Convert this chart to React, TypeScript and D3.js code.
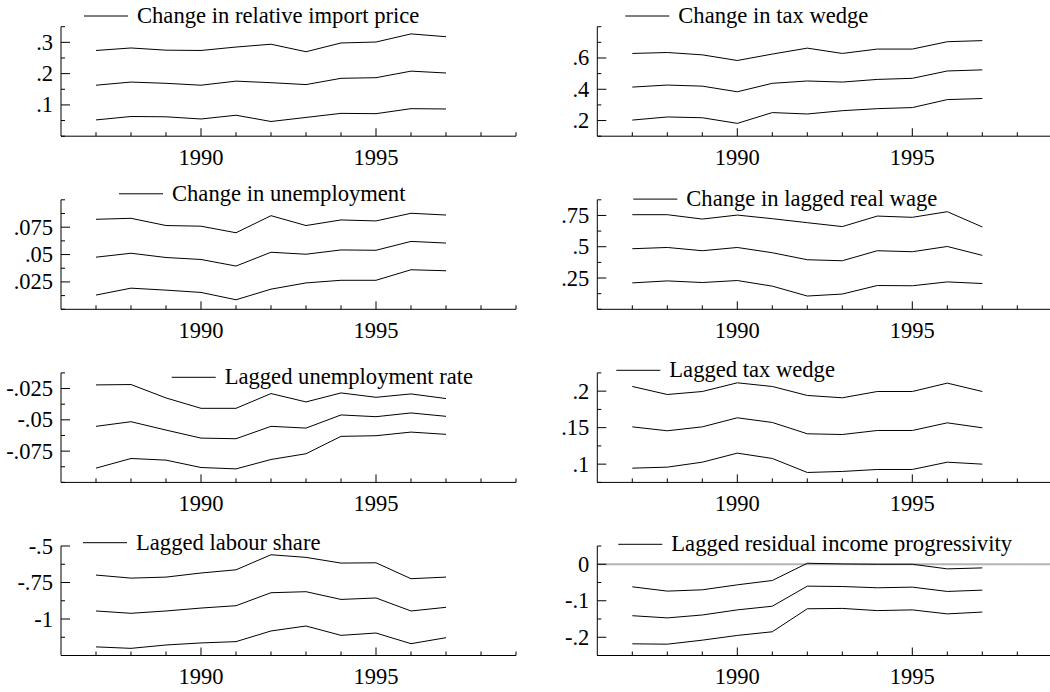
import React from 'react';
import * as d3 from 'd3';

const years = [1987, 1988, 1989, 1990, 1991, 1992, 1993, 1994, 1995, 1996, 1997];
const xTickYears = [1987, 1988, 1989, 1990, 1991, 1992, 1993, 1994, 1995, 1996, 1997, 1998, 1999];
const xLabelYears = [1990, 1995];

const importUpper = [0.274, 0.282, 0.275, 0.274, 0.285, 0.294, 0.27, 0.298, 0.301, 0.327, 0.318];
const importMid = [0.163, 0.173, 0.169, 0.163, 0.176, 0.171, 0.165, 0.185, 0.187, 0.208, 0.202];
const importLower = [0.052, 0.063, 0.062, 0.055, 0.067, 0.047, 0.06, 0.073, 0.072, 0.088, 0.087];

const taxUpper = [0.629, 0.635, 0.62, 0.584, 0.625, 0.663, 0.629, 0.657, 0.657, 0.704, 0.711];
const taxMid = [0.414, 0.427, 0.42, 0.384, 0.438, 0.453, 0.446, 0.463, 0.47, 0.517, 0.524];
const taxLower = [0.203, 0.223, 0.218, 0.182, 0.251, 0.242, 0.263, 0.276, 0.283, 0.334, 0.341];

const unempUpper = [0.0822, 0.0831, 0.0765, 0.0759, 0.0699, 0.0855, 0.0765, 0.0816, 0.0807, 0.0877, 0.0861];
const unempMid = [0.0476, 0.0512, 0.0473, 0.0455, 0.0395, 0.0521, 0.0503, 0.0542, 0.0539, 0.062, 0.0605];
const unempLower = [0.013, 0.0193, 0.0175, 0.0154, 0.0087, 0.0184, 0.0241, 0.0265, 0.0265, 0.0361, 0.0352];

const wageUpper = [0.756, 0.756, 0.721, 0.753, 0.724, 0.692, 0.661, 0.745, 0.735, 0.78, 0.658];
const wageMid = [0.484, 0.494, 0.468, 0.494, 0.452, 0.396, 0.388, 0.468, 0.46, 0.502, 0.431];
const wageLower = [0.211, 0.227, 0.214, 0.23, 0.185, 0.106, 0.122, 0.19, 0.188, 0.219, 0.206];

const lagUnempUpper = [-0.0221, -0.0218, -0.0325, -0.0408, -0.0408, -0.029, -0.0357, -0.0285, -0.032, -0.0293, -0.033];
const lagUnempMid = [-0.0552, -0.0515, -0.0582, -0.0646, -0.0651, -0.0552, -0.0566, -0.0461, -0.0475, -0.0445, -0.0472];
const lagUnempLower = [-0.0886, -0.0809, -0.0822, -0.0881, -0.0892, -0.0817, -0.0771, -0.0632, -0.0627, -0.0598, -0.0616];

const lagTaxUpper = [0.2064, 0.1954, 0.1995, 0.2114, 0.2064, 0.1941, 0.1909, 0.1995, 0.1995, 0.211, 0.1995];
const lagTaxMid = [0.1511, 0.1457, 0.1511, 0.1635, 0.1571, 0.1416, 0.1406, 0.1461, 0.1461, 0.1566, 0.1498];
const lagTaxLower = [0.0945, 0.0959, 0.1027, 0.1151, 0.1078, 0.0886, 0.09, 0.0927, 0.0927, 0.1027, 0.1];

const labourUpper = [-0.699, -0.72, -0.713, -0.685, -0.663, -0.56, -0.578, -0.617, -0.615, -0.724, -0.713];
const labourMid = [-0.945, -0.961, -0.945, -0.925, -0.909, -0.82, -0.813, -0.866, -0.856, -0.945, -0.92];
const labourLower = [-1.191, -1.201, -1.178, -1.164, -1.155, -1.082, -1.048, -1.112, -1.096, -1.169, -1.128];

const progUpper = [-0.0618, -0.0736, -0.07, -0.0564, -0.0445, 0.0027, 0.0009, 0, 0, -0.0127, -0.01];
const progMid = [-0.141, -0.147, -0.139, -0.125, -0.115, -0.06, -0.061, -0.0645, -0.0627, -0.0745, -0.0709];
const progLower = [-0.218, -0.219, -0.208, -0.195, -0.185, -0.122, -0.121, -0.127, -0.125, -0.136, -0.131];

type Panel = {
  title: string;
  series: number[][];
  domain: [number, number];
  step: number;
  labels: number[];
  legend: [number, number];
  zeroLine?: boolean;
};

const panels: Panel[] = [
  { title: 'Change in relative import price', series: [importUpper, importMid, importLower], domain: [0, 0.35], step: 0.05, labels: [0.1, 0.2, 0.3], legend: [23, -10.7] },
  { title: 'Change in tax wedge', series: [taxUpper, taxMid, taxLower], domain: [0.1, 0.8], step: 0.1, labels: [0.2, 0.4, 0.6], legend: [28, -10.7] },
  { title: 'Change in unemployment', series: [unempUpper, unempMid, unempLower], domain: [0, 0.1], step: 0.0125, labels: [0.025, 0.05, 0.075], legend: [58, -6] },
  { title: 'Change in lagged real wage', series: [wageUpper, wageMid, wageLower], domain: [0, 0.875], step: 0.125, labels: [0.25, 0.5, 0.75], legend: [36, -0.7] },
  { title: 'Lagged unemployment rate', series: [lagUnempUpper, lagUnempMid, lagUnempLower], domain: [-0.1, -0.0125], step: 0.0125, labels: [-0.075, -0.05, -0.025], legend: [110.7, 4.4] },
  { title: 'Lagged tax wedge', series: [lagTaxUpper, lagTaxMid, lagTaxLower], domain: [0.075, 0.225], step: 0.025, labels: [0.1, 0.15, 0.2], legend: [19, -2.6] },
  { title: 'Lagged labour share', series: [labourUpper, labourMid, labourLower], domain: [-1.25, -0.5], step: 0.125, labels: [-1, -0.75, -0.5], legend: [22, -3.3] },
  { title: 'Lagged residual income progressivity', series: [progUpper, progMid, progLower], domain: [-0.25, 0.05], step: 0.05, labels: [-0.2, -0.1, 0], legend: [21, -1.7], zeroLine: true },
];

const W = 1050;
const H = 692;
const FONT = '"Liberation Serif", "Times New Roman", serif';

const fmt = (v: number) => String(+v.toFixed(4)).replace('0.', '.');

function PanelChart({ p, i }: { p: Panel; i: number }) {
  const col = i % 2;
  const row = Math.floor(i / 2);
  const left = 61 + col * 536.3;
  const top = 26.7 + row * 173.1;
  const bottom = top + 109.5;

  const x = d3.scaleLinear().domain([1986, 1999]).range([left, left + 455]);
  const y = d3.scaleLinear().domain(p.domain).range([bottom, top]);
  const n = Math.round((p.domain[1] - p.domain[0]) / p.step);
  const yTicks = d3.range(n + 1).map(k => p.domain[0] + k * p.step);
  const isLabel = (v: number) => p.labels.some(l => Math.abs(l - v) < 1e-9);

  const line = d3
    .line<number>()
    .x((_, k) => x(years[k]))
    .y(d => y(d));

  const [lx, ly] = p.legend;
  const legY = top + ly;

  return (
    <g>
      {p.zeroLine && (
        <line x1={left} x2={W} y1={y(0)} y2={y(0)} stroke="#b4b4b4" strokeWidth={2} />
      )}
      <line x1={left} x2={left} y1={top} y2={bottom} stroke="#000" />
      <line x1={left} x2={Math.min(x(1999), W)} y1={bottom} y2={bottom} stroke="#000" />
      {yTicks.map(v => (
        <line key={`yt${v}`} x1={left} x2={left + (isLabel(v) ? 9 : 4)} y1={y(v)} y2={y(v)} stroke="#000" />
      ))}
      {p.labels.map(v => (
        <text key={`yl${v}`} x={left - 8} y={y(v) + 7.5} textAnchor="end" fontFamily={FONT} fontSize={22.5}>
          {fmt(v)}
        </text>
      ))}
      {xTickYears.map(yr => (
        <line key={`xt${yr}`} x1={x(yr)} x2={x(yr)} y1={bottom} y2={bottom - (xLabelYears.includes(yr) ? 8 : 4)} stroke="#000" />
      ))}
      {xLabelYears.map(yr => (
        <text key={`xl${yr}`} x={x(yr)} y={bottom + 28.5} textAnchor="middle" fontFamily={FONT} fontSize={22.5}>
          {yr}
        </text>
      ))}
      {p.series.map((s, k) => (
        <path key={`s${k}`} d={line(s) ?? ''} fill="none" stroke="#000" strokeWidth={1} />
      ))}
      <line x1={left + lx} x2={left + lx + 44} y1={legY} y2={legY} stroke="#000" />
      <text x={left + lx + 53} y={legY + 7} fontFamily={FONT} fontSize={22.6}>
        {p.title}
      </text>
    </g>
  );
}

export default function App() {
  return (
    <svg width={W} height={H} style={{ position: 'absolute', left: 0, top: 0, background: '#fff' }}>
      <rect width={W} height={H} fill="#fff" />
      {panels.map((p, i) => (
        <PanelChart key={p.title} p={p} i={i} />
      ))}
    </svg>
  );
}
